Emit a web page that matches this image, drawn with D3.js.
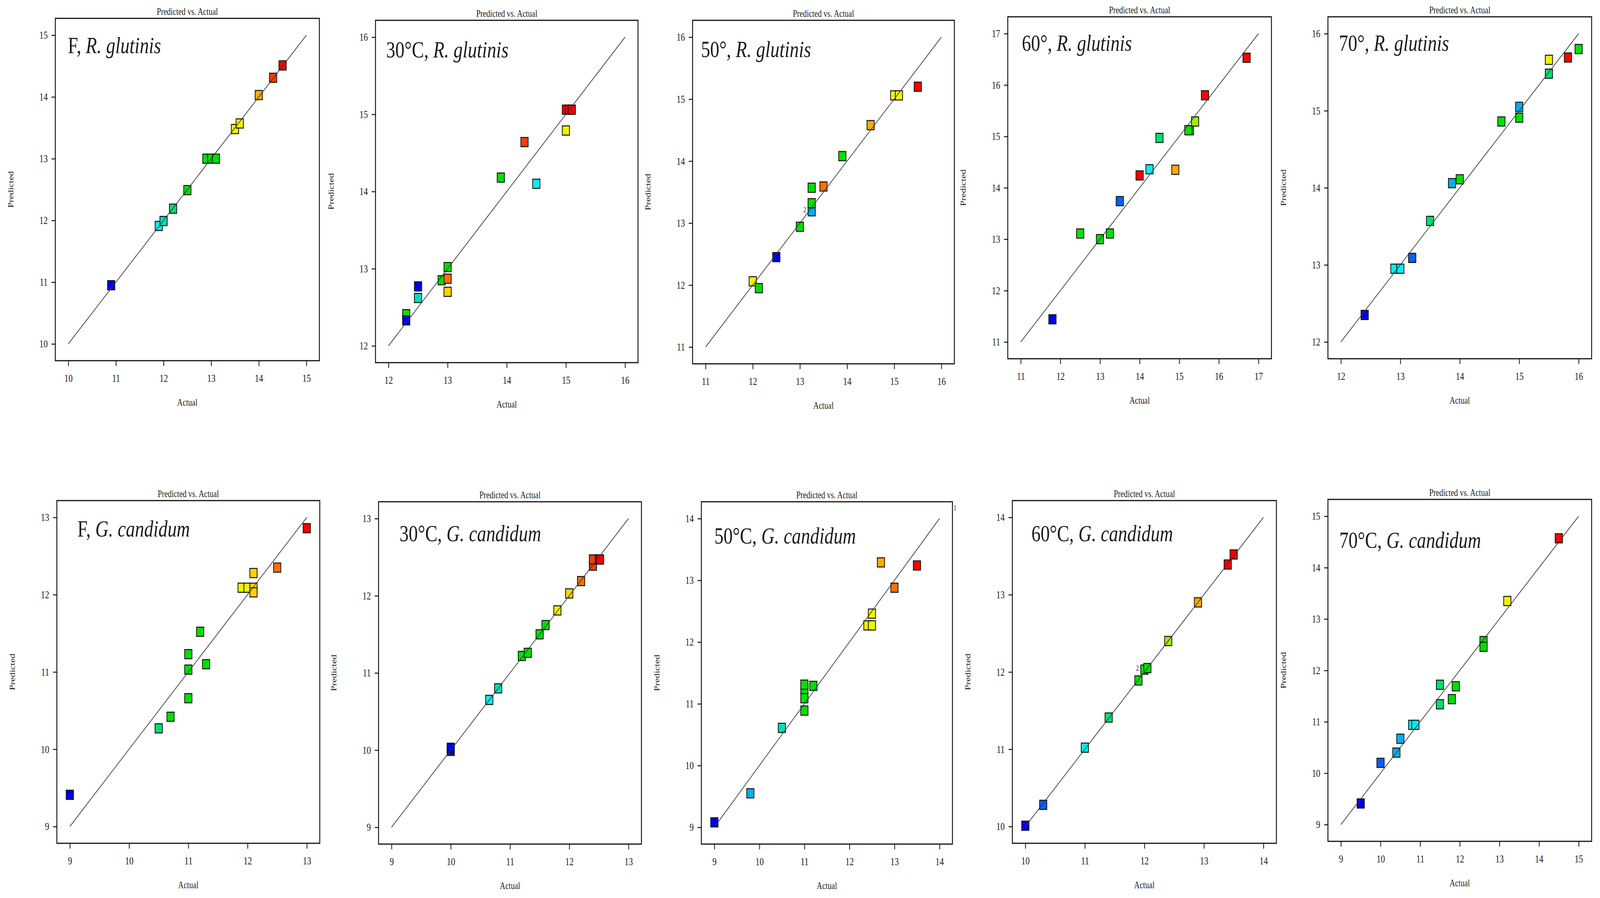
<!DOCTYPE html>
<html>
<head>
<meta charset="utf-8">
<script src="https://cdn.jsdelivr.net/npm/d3@7"></script>
<style>
  html, body { margin: 0; padding: 0; background: #fff; overflow: hidden; width: 100%; height: 100%; }
  svg { display: block; width: 100vw; height: 100vh; }
  text { font-family: "Liberation Serif", "Times New Roman", serif; fill: #1a1a1a; }
</style>
</head>
<body>
<svg id="chart"></svg>
<script>
// ---------------- DATA ----------------
// panel titles: [prefix, italic species]
const panelPrefix  = ["F, ", "30°C, ", "50°, ", "60°, ", "70°, ",
                      "F, ", "30°C, ", "50°C, ", "60°C, ", "70°C, "];
const panelSpecies = ["R. glutinis", "R. glutinis", "R. glutinis", "R. glutinis", "R. glutinis",
                      "G. candidum", "G. candidum", "G. candidum", "G. candidum", "G. candidum"];
const plotTitle = "Predicted vs. Actual";
const xAxisLabel = "Actual";
const yAxisLabel = "Predicted";

// axis domains (tick labels are the integers of each domain)
const axisDomains = [[10, 15], [12, 16], [11, 16], [11, 17], [12, 16],
                     [9, 13],  [9, 13],  [9, 14],  [10, 14], [9, 15]];

// colour level of each point (0 = blue ... 13 = red)
// R. glutinis, F
const rgF_actual    = [10.9, 11.9, 12.0, 12.2, 12.5, 12.9, 13.0, 13.1, 13.5, 13.6, 14.0, 14.3, 14.5];
const rgF_predicted = [10.95, 11.91, 11.99, 12.19, 12.49, 13.0, 13.0, 13.0, 13.48, 13.57, 14.03, 14.31, 14.51];
const rgF_level     = [0, 3, 4, 5, 6, 6, 6, 6, 8, 8, 10, 12, 13];
// R. glutinis, 30°C
const rg30_actual    = [12.3, 12.3, 12.5, 12.5, 12.9, 13.0, 13.0, 13.0, 13.9, 14.5, 14.3, 15.0, 15.0, 15.05, 15.1];
const rg30_predicted = [12.41, 12.33, 12.77, 12.62, 12.85, 13.02, 12.87, 12.70, 14.18, 14.10, 14.64, 14.79, 15.06, 15.06, 15.06];
const rg30_level     = [6, 0, 0, 4, 6, 6, 11, 9, 6, 3, 12, 8, 13, 13, 13];
// R. glutinis, 50°
const rg50_actual    = [12.0, 12.13, 12.5, 13.0, 13.25, 13.25, 13.25, 13.5, 13.9, 14.5, 15.0, 15.1, 15.5];
const rg50_predicted = [12.06, 11.95, 12.45, 12.94, 13.19, 13.32, 13.57, 13.59, 14.08, 14.58, 15.06, 15.06, 15.20];
const rg50_level     = [8, 6, 0, 6, 2, 6, 6, 11, 6, 10, 8, 8, 13];
// R. glutinis, 60°
const rg60_actual    = [11.8, 12.5, 13.0, 13.25, 13.5, 14.0, 14.25, 14.5, 14.9, 15.27, 15.23, 15.4, 15.65, 16.7];
const rg60_predicted = [11.44, 13.11, 13.0, 13.11, 13.74, 14.24, 14.36, 14.97, 14.35, 15.12, 15.12, 15.29, 15.80, 16.53];
const rg60_level     = [0, 6, 6, 6, 1, 13, 3, 5, 10, 6, 6, 7, 13, 13];
// R. glutinis, 70°
const rg70_actual    = [12.4, 12.9, 13.0, 13.2, 13.5, 13.87, 14.0, 14.7, 15.0, 15.0, 15.5, 15.5, 15.82, 16.0];
const rg70_predicted = [12.35, 12.95, 12.95, 13.09, 13.57, 14.06, 14.11, 14.86, 15.05, 14.91, 15.48, 15.66, 15.69, 15.80];
const rg70_level     = [0, 3, 3, 1, 5, 2, 6, 6, 2, 6, 5, 8, 13, 6];
// G. candidum, F
const gcF_actual    = [9.0, 10.5, 10.7, 11.0, 11.0, 11.0, 11.2, 11.3, 11.9, 12.0, 12.1, 12.1, 12.1, 12.5, 13.0];
const gcF_predicted = [9.41, 10.27, 10.42, 10.66, 11.03, 11.23, 11.52, 11.10, 12.09, 12.09, 12.09, 12.03, 12.28, 12.35, 12.86];
const gcF_level     = [0, 5, 6, 6, 6, 6, 6, 6, 8, 8, 9, 9, 9, 11, 13];
// G. candidum, 30°C
const gc30_actual    = [10.0, 10.0, 10.65, 10.8, 11.2, 11.3, 11.5, 11.6, 11.8, 12.0, 12.2, 12.4, 12.4, 12.5, 12.52];
const gc30_predicted = [9.99, 10.03, 10.65, 10.80, 11.22, 11.26, 11.50, 11.62, 11.81, 12.03, 12.19, 12.39, 12.47, 12.47, 12.47];
const gc30_level     = [0, 0, 3, 4, 6, 6, 6, 6, 8, 9, 11, 12, 12, 13, 13];
// G. candidum, 50°C
const gc50_actual    = [9.0, 9.8, 10.5, 11.0, 11.0, 11.0, 11.0, 11.2, 12.4, 12.5, 12.5, 12.7, 13.0, 13.5];
const gc50_predicted = [9.08, 9.55, 10.61, 10.89, 11.09, 11.24, 11.31, 11.29, 12.27, 12.27, 12.46, 13.29, 12.88, 13.24];
const gc50_level     = [0, 2, 4, 6, 6, 6, 6, 6, 8, 8, 8, 10, 11, 13];
// G. candidum, 60°C
const gc60_actual    = [10.0, 10.3, 11.0, 11.4, 11.9, 12.0, 12.05, 12.4, 12.9, 13.4, 13.5];
const gc60_predicted = [10.01, 10.28, 11.02, 11.41, 11.89, 12.03, 12.05, 12.40, 12.90, 13.39, 13.52];
const gc60_level     = [0, 1, 3, 5, 6, 6, 6, 7, 10, 13, 13];
// G. candidum, 70°C
const gc70_actual    = [9.5, 10.0, 10.4, 10.5, 10.8, 10.88, 11.5, 11.5, 11.8, 11.9, 12.6, 12.6, 13.2, 14.5];
const gc70_predicted = [9.41, 10.20, 10.40, 10.67, 10.94, 10.94, 11.72, 11.34, 11.44, 11.69, 12.57, 12.46, 13.35, 14.57];
const gc70_level     = [0, 1, 2, 2, 3, 3, 5, 5, 6, 6, 6, 6, 8, 13];

// "2" replicate markers: [panel index, actual, predicted]
const replicateNotes = [[2, 13.25, 13.19], [8, 12.0, 12.03]];

const seriesActual    = [rgF_actual, rg30_actual, rg50_actual, rg60_actual, rg70_actual,
                         gcF_actual, gc30_actual, gc50_actual, gc60_actual, gc70_actual];
const seriesPredicted = [rgF_predicted, rg30_predicted, rg50_predicted, rg60_predicted, rg70_predicted,
                         gcF_predicted, gc30_predicted, gc50_predicted, gc60_predicted, gc70_predicted];
const seriesLevel     = [rgF_level, rg30_level, rg50_level, rg60_level, rg70_level,
                         gcF_level, gc30_level, gc50_level, gc60_level, gc70_level];

// ---------------- STYLE / LAYOUT ----------------
const palette = ["#0000ee", "#0060ff", "#00b0f0", "#00eef0", "#00e0b4", "#00e070", "#00e000",
                 "#a6ea00", "#f2f200", "#ffd200", "#ffaa00", "#ff7000", "#ff3c00", "#ff0000"];

const W = 4193, H = 2298;
const K = 1.24;                 // vertical stretch of the original figure
const VH = H / K;

// frames in picture pixels: [left, top, right, bottom]
const frames = [
  [145, 47, 837, 923], [984, 52, 1672, 928], [1815, 52, 2501, 931], [2641, 43, 3332, 918], [3480, 43, 4171, 918],
  [149, 1281, 838, 2158], [992, 1284, 1681, 2160], [1838, 1284, 2496, 2160], [2653, 1281, 3345, 2158], [3480, 1278, 4171, 2153]
];
// panel label offset from frame [dx, baseline dy] in picture pixels
const labelOffsets = [[33, 89], [28, 95], [22, 94], [37, 87], [29, 87],
                      [54, 92], [55, 101], [34, 107], [50, 104], [30, 124]];

const svg = d3.select("#chart")
  .attr("viewBox", `0 0 ${W} ${VH}`)
  .attr("preserveAspectRatio", "none");

svg.append("rect").attr("width", W).attr("height", VH).attr("fill", "#fff");

const MX = 34, MY = 43 / K;
const markerSize = 19;

frames.forEach((f, i) => {
  const [L, T0, R, B0] = f;
  const T = T0 / K, B = B0 / K;
  const dom = axisDomains[i];
  const ticks = d3.range(dom[0], dom[1] + 1);
  const x = d3.scaleLinear().domain(dom).range([L + MX, R - MX]);
  const y = d3.scaleLinear().domain(dom).range([B - MY, T + MY]);
  const g = svg.append("g");

  // title
  g.append("text").attr("x", (L + R) / 2).attr("y", T - 7)
    .attr("text-anchor", "middle").attr("font-size", 20).text(plotTitle);

  // frame
  g.append("rect").attr("x", L).attr("y", T).attr("width", R - L).attr("height", B - T)
    .attr("fill", "none").attr("stroke", "#111").attr("stroke-width", 2.4);

  // axes
  const xa = g.append("g").attr("transform", `translate(0,${B})`)
    .call(d3.axisBottom(x).tickValues(ticks).tickFormat(d3.format("d"))
      .tickSize(11).tickSizeOuter(0).tickPadding(17));
  const ya = g.append("g").attr("transform", `translate(${L},0)`)
    .call(d3.axisLeft(y).tickValues(ticks).tickFormat(d3.format("d"))
      .tickSize(10).tickSizeOuter(0).tickPadding(10));
  [xa, ya].forEach(a => {
    a.select(".domain").remove();
    a.selectAll(".tick line").attr("stroke", "#111").attr("stroke-width", 2);
    a.selectAll(".tick text").attr("font-size", 22).attr("fill", "#1a1a1a")
      .style("font-family", '"Liberation Serif", "Times New Roman", serif');
  });

  // axis labels
  g.append("text").attr("x", (L + R) / 2).attr("y", B + 93)
    .attr("text-anchor", "middle").attr("font-size", 20).text(xAxisLabel);
  g.append("text")
    .attr("transform", `translate(${L - 117},${(T + B) / 2}) rotate(-90)`)
    .attr("text-anchor", "middle").attr("dominant-baseline", "central")
    .attr("font-size", 20).text(yAxisLabel);

  // panel label
  const lab = g.append("text")
    .attr("x", L + labelOffsets[i][0]).attr("y", (T0 + labelOffsets[i][1]) / K)
    .attr("font-size", 48);
  lab.append("tspan").text(panelPrefix[i]);
  lab.append("tspan").attr("font-style", "italic").text(panelSpecies[i]);

  // points
  const pts = seriesActual[i].map((a, j) => ({a, p: seriesPredicted[i][j], c: seriesLevel[i][j]}));
  g.selectAll("rect.pt").data(pts).join("rect").attr("class", "pt")
    .attr("x", d => x(d.a) - markerSize / 2)
    .attr("y", d => y(d.p) - markerSize / 2)
    .attr("width", markerSize).attr("height", markerSize)
    .attr("fill", d => palette[d.c])
    .attr("stroke", "#111").attr("stroke-width", 2);

  // 1:1 line
  g.append("line")
    .attr("x1", x(dom[0])).attr("y1", y(dom[0]))
    .attr("x2", x(dom[1])).attr("y2", y(dom[1]))
    .attr("stroke", "#333").attr("stroke-width", 1.6);

  // replicate notes
  replicateNotes.filter(r => r[0] === i).forEach(r => {
    g.append("text").attr("x", x(r[1]) - 22).attr("y", y(r[2]) + 2)
      .attr("font-size", 15).attr("fill", "#555").text("2");
  });
});

// small stray mark near the 50°C G. candidum frame
svg.append("text").attr("x", 2499).attr("y", 1306 / K).attr("font-size", 15).attr("fill", "#444").text("1");
</script>
</body>
</html>
